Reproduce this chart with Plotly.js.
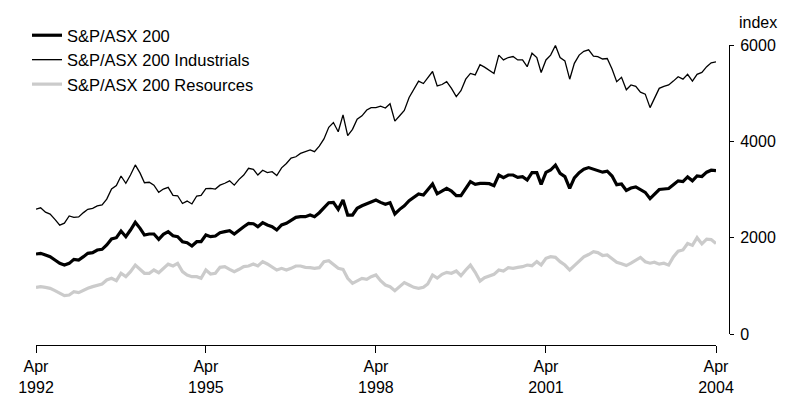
<!DOCTYPE html>
<html>
<head>
<meta charset="utf-8">
<script src="https://cdn.plot.ly/plotly-3.0.1.min.js"></script>
<style>html,body{margin:0;padding:0;background:#fff;}#chart{width:791px;height:397px;}</style>
</head>
<body>
<div id="chart"></div>
<script>
// Monthly observations, April 1992 to April 2004
var startYear = 1992, startMonth = 4, nMonths = 145;

var asx200 = [1660,1675,1640,1605,1536,1467,1432,1467,1550,1536,
1605,1675,1689,1744,1758,1848,1972,2000,2138,2020,
2159,2318,2194,2055,2076,2076,1966,2069,2124,2041,
2020,1916,1895,1827,1916,1916,2055,2020,2034,2103,
2124,2145,2076,2159,2228,2297,2290,2228,2311,2263,
2228,2159,2263,2297,2367,2422,2436,2436,2470,2436,
2518,2629,2726,2733,2588,2782,2470,2470,2609,2663,
2699,2747,2782,2733,2692,2726,2491,2588,2663,2768,
2837,2906,2886,2990,3114,2910,2960,3024,2969,2871,
2871,3024,3162,3107,3128,3128,3121,3080,3301,3246,
3301,3301,3253,3267,3197,3349,3349,3107,3356,3405,
3508,3336,3267,3024,3240,3350,3420,3455,3420,3405,
3360,3380,3280,3100,3115,2980,3030,3055,3000,2940,
2810,2910,3000,3010,3020,3100,3180,3165,3260,3180,
3280,3270,3360,3400,3390];

var industrials = [2590,2620,2530,2490,2380,2260,2300,2450,2420,2430,
2520,2590,2610,2660,2680,2800,3010,3080,3280,3130,
3300,3510,3340,3140,3150,3090,2940,3010,3045,2880,
2870,2710,2760,2700,2865,2880,3020,3025,3010,3090,
3130,3180,3090,3210,3300,3440,3420,3300,3400,3350,
3370,3290,3450,3540,3650,3680,3750,3780,3820,3785,
3900,4050,4290,4390,4200,4550,4120,4250,4460,4530,
4650,4700,4700,4730,4690,4780,4420,4530,4640,4910,
5070,5250,5200,5330,5450,5150,5180,5240,5100,4930,
5050,5290,5410,5380,5590,5540,5480,5410,5790,5690,
5740,5760,5690,5690,5550,5830,5740,5430,5690,5790,
5990,5740,5670,5290,5620,5790,5870,5900,5770,5760,
5710,5720,5500,5240,5330,5070,5170,5140,5020,4980,
4700,4900,5100,5140,5170,5250,5340,5290,5390,5250,
5390,5430,5550,5630,5650];

var resources = [969,983,969,948,900,844,796,810,879,858,
913,948,983,1003,1038,1121,1156,1107,1260,1190,
1294,1432,1343,1260,1260,1329,1273,1363,1450,1412,
1467,1294,1225,1190,1190,1156,1329,1246,1260,1384,
1398,1343,1294,1343,1398,1412,1453,1412,1502,1453,
1398,1329,1363,1329,1363,1412,1412,1384,1377,1363,
1377,1502,1522,1453,1363,1343,1156,1052,1107,1156,
1135,1190,1225,1107,1017,983,900,996,1066,1017,
969,948,969,1038,1225,1160,1239,1280,1260,1308,
1211,1329,1432,1280,1100,1169,1211,1239,1329,1308,
1377,1363,1384,1398,1432,1418,1502,1432,1571,1605,
1592,1502,1432,1329,1420,1520,1600,1650,1710,1690,
1630,1640,1560,1490,1460,1420,1470,1530,1590,1500,
1470,1490,1450,1470,1430,1600,1720,1745,1880,1840,
2000,1870,1970,1960,1880];

var seriesNames = ['S&P/ASX 200', 'S&P/ASX 200 Industrials', 'S&P/ASX 200 Resources'];
var xTickVals = ['1992-04-01','1995-04-01','1998-04-01','2001-04-01','2004-04-01'];
var xTickText = ['Apr<br>1992','Apr<br>1995','Apr<br>1998','Apr<br>2001','Apr<br>2004'];
var yTickVals = [0, 2000, 4000, 6000];

function pad(n){ return (n < 10 ? '0' : '') + n; }
var dates = [];
for (var i = 0; i < nMonths; i++) {
  var m = startMonth - 1 + i;
  var yr = startYear + Math.floor(m / 12);
  dates.push(yr + '-' + pad(m % 12 + 1) + '-01');
}

var traces = [
  {x: dates, y: asx200, name: seriesNames[0], type: 'scatter', mode: 'lines',
   line: {color: '#000000', width: 3.2}},
  {x: dates, y: industrials, name: seriesNames[1], type: 'scatter', mode: 'lines',
   line: {color: '#000000', width: 1.3}},
  {x: dates, y: resources, name: seriesNames[2], type: 'scatter', mode: 'lines',
   line: {color: '#cbcbcb', width: 3.2}}
];

var W = 791, H = 397, ml = 36, mr = 62, mt = 45, mb = 52;
var pw = W - ml - mr, ph = H - mt - mb;
var FONT = 'Arial, Liberation Sans, sans-serif';

var layout = {
  width: W, height: H,
  margin: {l: ml, r: mr, t: mt, b: mb, pad: 0},
  paper_bgcolor: '#ffffff', plot_bgcolor: '#ffffff',
  font: {family: FONT, size: 16, color: '#000'},
  showlegend: true,
  legend: {x: -9/pw, y: 1 + 27/ph, xanchor: 'left', yanchor: 'top',
           bgcolor: 'rgba(0,0,0,0)', font: {family: FONT, size: 16.5, color: '#000'},
           tracegroupgap: 0, itemwidth: 30},
  xaxis: {
    type: 'date', range: ['1992-04-01', '2004-04-01'],
    domain: [0, 680/pw], anchor: 'free', position: 0,
    showgrid: false, zeroline: false, showline: true, linecolor: '#000', linewidth: 1,
    ticks: 'outside', ticklen: 7, tickwidth: 1, tickcolor: '#000',
    tickmode: 'array', tickvals: xTickVals, ticktext: xTickText,
    tickfont: {family: FONT, size: 16, color: '#000'}
  },
  yaxis: {
    range: [0, 6000], domain: [11/ph, 1], anchor: 'free', position: 1, side: 'right',
    showgrid: false, zeroline: false, showline: true, linecolor: '#000', linewidth: 1,
    ticks: 'outside', ticklen: 4, tickwidth: 1, tickcolor: '#000', ticklabelstandoff: 3,
    tickmode: 'array', tickvals: yTickVals,
    tickfont: {family: FONT, size: 16, color: '#000'}
  },
  annotations: [{
    text: 'index', xref: 'paper', yref: 'paper', x: (737 - ml)/pw, y: 1 + (45 - 22)/ph,
    xanchor: 'left', yanchor: 'middle', showarrow: false,
    font: {family: FONT, size: 16, color: '#000'}
  }]
};

Plotly.newPlot('chart', traces, layout, {displayModeBar: false, staticPlot: true});
</script>
</body>
</html>
